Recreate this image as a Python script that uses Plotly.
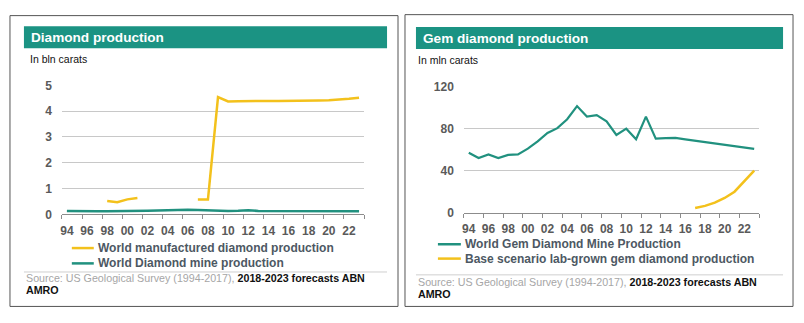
import plotly.graph_objects as go

# ---- data -------------------------------------------------------------
years = list(range(1994, 2024))
tick_years = list(range(1994, 2023, 2))
tick_labels = [f"{y % 100:02d}" for y in tick_years]

# Diamond production, bln carats
manufactured = [None, None, None, None, 0.52, 0.47, 0.58, 0.63,
                None, None, None, None, None, 0.57, 0.57, 4.55,
                4.38, 4.39, 4.40, 4.40, 4.40, 4.40, 4.40, 4.40,
                4.41, 4.42, 4.43, 4.45, 4.48, 4.52]
mine_total = [0.13, 0.12, 0.12, 0.12, 0.12, 0.12, 0.12, 0.13, 0.14, 0.15,
              0.16, 0.18, 0.18, 0.17, 0.16, 0.13, 0.13, 0.14, 0.16, 0.13,
              0.13, 0.13, 0.13, 0.13, 0.13, 0.12, 0.12, 0.12, 0.12, 0.12]

# Gem diamond production, mln carats
gem_mine = [57, 52, 55.5, 52, 55, 55.5, 61, 68, 76, 80.5,
            89, 101.5, 91.5, 93, 87, 74, 80, 70, 91.5, 70.5,
            71, 71.2, 69.9, 68.6, 67.3, 66, 64.7, 63.4, 62, 60.7]
lab_grown = [None] * 23 + [4.5, 6.5, 9.5, 14, 20, 30, 40]

left_yticks = [0, 1, 2, 3, 4, 5]
right_yticks = [0, 40, 80, 120]

# ---- styling ----------------------------------------------------------
W, H = 804, 323
FONT = "Liberation Sans, Arial, sans-serif"
YELLOW = "#f3c11c"
TEAL_LINE = "#21917f"
TEAL_BAND = "#1b9383"
AXIS_TXT = "#5a5a5a"
LEG_TXT = "#4d5863"


def px(x):
    return x / W


def py(y):
    return 1 - y / H


fig = go.Figure()

fig.add_trace(go.Scatter(x=years, y=manufactured, mode="lines",
                         line=dict(color=YELLOW, width=2.5),
                         name="World manufactured diamond production",
                         xaxis="x", yaxis="y"))
fig.add_trace(go.Scatter(x=years, y=mine_total, mode="lines",
                         line=dict(color=TEAL_LINE, width=2.5),
                         name="World Diamond mine production",
                         xaxis="x", yaxis="y"))
fig.add_trace(go.Scatter(x=years, y=gem_mine, mode="lines",
                         line=dict(color=TEAL_LINE, width=2.2),
                         name="World Gem Diamond Mine Production",
                         xaxis="x2", yaxis="y2"))
fig.add_trace(go.Scatter(x=years, y=lab_grown, mode="lines",
                         line=dict(color=YELLOW, width=2.5),
                         name="Base scenario lab-grown gem diamond production",
                         xaxis="x2", yaxis="y2"))

boundaries = [1993.5 + 2 * k for k in range(16)]


def xaxis_cfg(domain, anchor):
    return dict(
        domain=domain, anchor=anchor, range=[1993.5, 2023.5],
        tickmode="array", tickvals=tick_years, ticktext=tick_labels,
        ticks="", showgrid=False, zeroline=False,
        showline=True, linecolor="#8c8c8c", linewidth=1,
        tickfont=dict(family=FONT, size=12, color=AXIS_TXT, weight="bold"),
        ticklabelstandoff=5,
        minor=dict(tickmode="array", tickvals=boundaries, ticks="outside",
                   ticklen=4, tickwidth=1, tickcolor="#8c8c8c",
                   showgrid=False),
        fixedrange=True,
    )


def yaxis_cfg(domain, anchor, rng, vals):
    return dict(
        domain=domain, anchor=anchor, range=rng,
        tickmode="array", tickvals=vals,
        ticks="", showgrid=True, gridcolor="#c8c8c8", gridwidth=1,
        zeroline=False, showline=False,
        tickfont=dict(family=FONT, size=12, color=AXIS_TXT, weight="bold"),
        ticklabelstandoff=9,
        fixedrange=True,
    )


fig.update_layout(
    width=W, height=H,
    margin=dict(l=0, r=0, t=0, b=0),
    paper_bgcolor="white", plot_bgcolor="white",
    showlegend=False,
    font=dict(family=FONT),
    xaxis=xaxis_cfg([px(60), px(363)], "y"),
    yaxis=yaxis_cfg([py(216.7), py(82)], "x", [0, 5], left_yticks),
    xaxis2=xaxis_cfg([px(463), px(759)], "y2"),
    yaxis2=yaxis_cfg([py(215), py(83.3)], "x2", [0, 120], right_yticks),
)

shapes = []
annotations = []

# panel frames
for x0, y0, x1, y1 in [(8, 9, 397, 313), (404, 8, 793, 313)]:
    shapes.append(dict(type="rect", xref="paper", yref="paper",
                       x0=px(x0), x1=px(x1), y0=py(y1), y1=py(y0),
                       line=dict(color="#555555", width=1),
                       fillcolor="rgba(0,0,0,0)", layer="below"))

panels = [
    dict(band=(22, 386), title="Diamond production", unit="In bln carats",
         tx=27, ux=26, sep_y=277, src_y=(283, 296),
         legend=[(252, YELLOW, "World manufactured diamond production"),
                 (268, TEAL_LINE, "World Diamond mine production")],
         leg_x=(70, 92, 94), band_y=(20, 43), unit_y=54),
    dict(band=(415, 783), title="Gem diamond production", unit="In mln carats",
         tx=420, ux=415, sep_y=280, src_y=(287, 300),
         legend=[(248, TEAL_LINE, "World Gem Diamond Mine Production"),
                 (263, YELLOW, "Base scenario lab-grown gem diamond production")],
         leg_x=(437, 460, 462), band_y=(21, 44), unit_y=55),
]

for p in panels:
    # title band
    bx0, bx1 = p["band"]
    by0, by1 = p["band_y"]
    shapes.append(dict(type="rect", xref="paper", yref="paper",
                       x0=px(bx0), x1=px(bx1), y0=py(by1), y1=py(by0),
                       line=dict(width=0), fillcolor=TEAL_BAND, layer="below"))
    annotations.append(dict(xref="paper", yref="paper",
                            x=px(p["tx"]), y=py((by0 + by1) / 2),
                            xanchor="left", yanchor="middle", showarrow=False,
                            text=f"<b>{p['title']}</b>",
                            font=dict(family=FONT, size=13.6, color="white")))
    annotations.append(dict(xref="paper", yref="paper",
                            x=px(p["ux"]), y=py(p["unit_y"]),
                            xanchor="left", yanchor="middle", showarrow=False,
                            text=p["unit"],
                            font=dict(family=FONT, size=10.5, color="#111111")))
    # legend
    lx0, lx1, tx = p["leg_x"]
    for ly, col, label in p["legend"]:
        shapes.append(dict(type="line", xref="paper", yref="paper",
                           x0=px(lx0), x1=px(lx1), y0=py(ly), y1=py(ly),
                           line=dict(color=col, width=2.5)))
        annotations.append(dict(xref="paper", yref="paper",
                                x=px(tx), y=py(ly), xanchor="left",
                                yanchor="middle", showarrow=False,
                                text=f"<b>{label}</b>",
                                font=dict(family=FONT, size=12, color=LEG_TXT)))
    # separator and source
    shapes.append(dict(type="line", xref="paper", yref="paper",
                       x0=px(bx0), x1=px(bx1), y0=py(p["sep_y"]), y1=py(p["sep_y"]),
                       line=dict(color="#cfcfcf", width=1)))
    s1, s2 = p["src_y"]
    annotations.append(dict(xref="paper", yref="paper", x=px(bx0), y=py(s1),
                            xanchor="left", yanchor="middle", showarrow=False,
                            text=("<span style='color:#a6a6a6'>Source: US Geological "
                                  "Survey (1994-2017), </span>"
                                  "<b>2018-2023 forecasts ABN</b>"),
                            font=dict(family=FONT, size=10.7, color="#111111")))
    annotations.append(dict(xref="paper", yref="paper", x=px(bx0), y=py(s2),
                            xanchor="left", yanchor="middle", showarrow=False,
                            text="<b>AMRO</b>",
                            font=dict(family=FONT, size=10.7, color="#111111")))

fig.update_layout(shapes=shapes, annotations=annotations)

fig.write_html("out.html",
               post_script="document.body.style.margin='0';"
                           "document.body.style.overflow='hidden';")
